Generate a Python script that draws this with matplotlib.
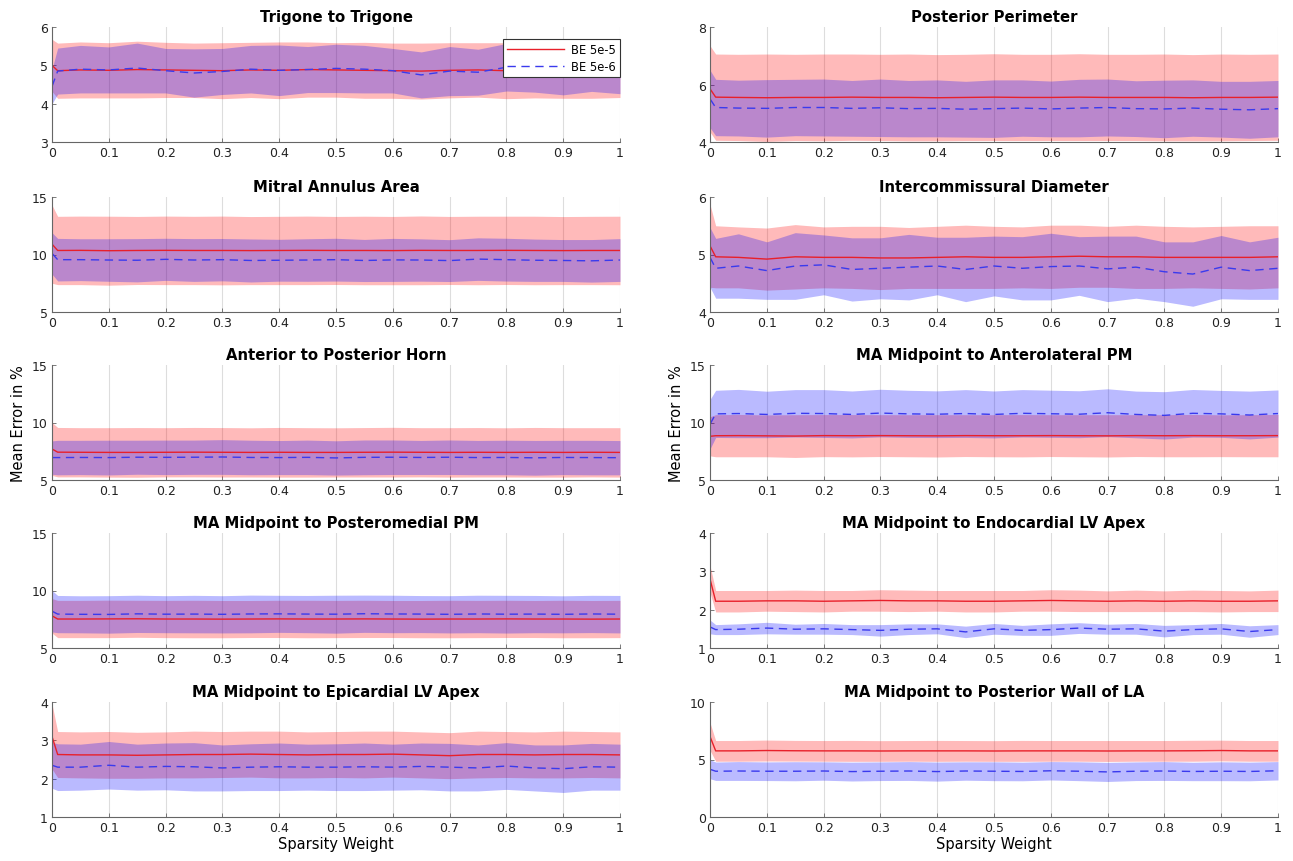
import matplotlib
matplotlib.use("Agg")
import matplotlib.pyplot as plt
import numpy as np

# ---------------- data ----------------
sparsity = [0.00, 0.01, 0.05, 0.10, 0.15, 0.20, 0.25, 0.30, 0.35, 0.40, 0.45,
            0.50, 0.55, 0.60, 0.65, 0.70, 0.75, 0.80, 0.85, 0.90, 0.95, 1.00]
x_ticks = [0, 0.1, 0.2, 0.3, 0.4, 0.5, 0.6, 0.7, 0.8, 0.9, 1]
x_tick_labels = ["0", "0.1", "0.2", "0.3", "0.4", "0.5", "0.6", "0.7", "0.8", "0.9", "1"]
series_labels = ["BE 5e-5", "BE 5e-6"]

titles = ["Trigone to Trigone", "Posterior Perimeter", "Mitral Annulus Area",
          "Intercommissural Diameter", "Anterior to Posterior Horn",
          "MA Midpoint to Anterolateral PM", "MA Midpoint to Posteromedial PM",
          "MA Midpoint to Endocardial LV Apex", "MA Midpoint to Epicardial LV Apex",
          "MA Midpoint to Posterior Wall of LA"]
y_limits = [(3, 6), (4, 8), (5, 15), (4, 6), (5, 15), (5, 15), (5, 15), (1, 4), (1, 4), (0, 10)]
y_ticks = [[3, 4, 5, 6], [4, 6, 8], [5, 10, 15], [4, 5, 6], [5, 10, 15],
           [5, 10, 15], [5, 10, 15], [1, 2, 3, 4], [1, 2, 3, 4], [0, 5, 10]]

# Trigone to Trigone
tt_r_mean = [5.00, 4.86, 4.88, 4.87, 4.89, 4.88, 4.87, 4.86, 4.88, 4.87, 4.89, 4.88, 4.87, 4.86, 4.85, 4.87, 4.88, 4.86, 4.87, 4.88, 4.86, 4.87]
tt_r_std = [0.68, 0.72, 0.73, 0.72, 0.74, 0.72, 0.71, 0.73, 0.72, 0.74, 0.72, 0.71, 0.73, 0.72, 0.73, 0.72, 0.71, 0.73, 0.72, 0.74, 0.72, 0.71]
tt_b_mean = [4.45, 4.85, 4.90, 4.88, 4.93, 4.86, 4.80, 4.84, 4.90, 4.87, 4.89, 4.92, 4.90, 4.86, 4.75, 4.85, 4.82, 4.95, 4.88, 4.86, 4.92, 4.88]
tt_b_std = [0.45, 0.60, 0.62, 0.60, 0.65, 0.58, 0.63, 0.60, 0.62, 0.66, 0.60, 0.63, 0.62, 0.58, 0.60, 0.64, 0.60, 0.62, 0.58, 0.63, 0.60, 0.62]

# Posterior Perimeter
pp_r_mean = [5.85, 5.56, 5.55, 5.54, 5.55, 5.55, 5.56, 5.55, 5.55, 5.54, 5.55, 5.56, 5.55, 5.55, 5.56, 5.55, 5.55, 5.55, 5.54, 5.55, 5.55, 5.56]
pp_r_std = [1.50, 1.50, 1.50, 1.52, 1.50, 1.51, 1.50, 1.50, 1.51, 1.50, 1.50, 1.51, 1.50, 1.50, 1.51, 1.50, 1.50, 1.51, 1.50, 1.51, 1.50, 1.50]
pp_b_mean = [5.50, 5.20, 5.18, 5.17, 5.20, 5.20, 5.17, 5.19, 5.16, 5.17, 5.14, 5.16, 5.18, 5.15, 5.18, 5.20, 5.16, 5.15, 5.18, 5.14, 5.12, 5.16]
pp_b_std = [1.00, 0.98, 0.97, 1.00, 0.98, 0.99, 0.97, 1.00, 0.98, 0.99, 0.97, 1.00, 0.98, 0.97, 1.00, 0.99, 0.97, 1.00, 0.98, 0.97, 0.99, 0.98]

# Mitral Annulus Area
ma_r_mean = [10.90, 10.35, 10.36, 10.33, 10.35, 10.36, 10.35, 10.35, 10.34, 10.35, 10.36, 10.35, 10.35, 10.34, 10.36, 10.35, 10.35, 10.36, 10.35, 10.34, 10.35, 10.35]
ma_r_std = [3.40, 2.97, 2.98, 3.00, 2.96, 2.98, 2.97, 2.99, 2.96, 2.97, 2.98, 2.96, 2.98, 2.97, 2.99, 2.96, 2.98, 2.97, 2.98, 2.96, 2.97, 2.98]
ma_b_mean = [10.10, 9.55, 9.55, 9.52, 9.50, 9.58, 9.52, 9.55, 9.48, 9.50, 9.52, 9.55, 9.48, 9.53, 9.52, 9.47, 9.60, 9.55, 9.50, 9.48, 9.45, 9.52]
ma_b_std = [1.80, 1.85, 1.82, 1.85, 1.88, 1.83, 1.86, 1.84, 1.87, 1.82, 1.85, 1.86, 1.83, 1.87, 1.84, 1.82, 1.85, 1.86, 1.84, 1.82, 1.85, 1.86]

# Intercommissural Diameter
ic_r_mean = [5.15, 4.96, 4.95, 4.92, 4.96, 4.95, 4.95, 4.94, 4.94, 4.95, 4.96, 4.95, 4.95, 4.96, 4.97, 4.96, 4.96, 4.95, 4.95, 4.95, 4.95, 4.96]
ic_r_std = [0.72, 0.54, 0.53, 0.54, 0.56, 0.53, 0.54, 0.55, 0.53, 0.54, 0.55, 0.54, 0.53, 0.55, 0.54, 0.53, 0.55, 0.54, 0.53, 0.54, 0.55, 0.54]
ic_b_mean = [4.95, 4.76, 4.80, 4.72, 4.80, 4.82, 4.74, 4.76, 4.78, 4.80, 4.74, 4.80, 4.76, 4.79, 4.80, 4.75, 4.78, 4.70, 4.66, 4.78, 4.72, 4.76]
ic_b_std = [0.52, 0.52, 0.56, 0.50, 0.58, 0.52, 0.55, 0.53, 0.57, 0.50, 0.56, 0.52, 0.55, 0.58, 0.51, 0.57, 0.54, 0.52, 0.56, 0.55, 0.50, 0.54]

# Anterior to Posterior Horn
ap_r_mean = [7.70, 7.42, 7.41, 7.40, 7.40, 7.41, 7.42, 7.41, 7.40, 7.41, 7.40, 7.40, 7.41, 7.42, 7.41, 7.40, 7.41, 7.40, 7.41, 7.40, 7.41, 7.40]
ap_r_std = [2.30, 2.15, 2.14, 2.15, 2.16, 2.14, 2.15, 2.15, 2.14, 2.16, 2.15, 2.14, 2.15, 2.16, 2.14, 2.15, 2.15, 2.14, 2.16, 2.15, 2.14, 2.15]
ap_b_mean = [6.95, 6.95, 6.96, 6.95, 6.98, 6.97, 6.98, 7.00, 6.96, 6.95, 6.97, 6.92, 6.97, 6.98, 6.96, 6.98, 6.95, 6.96, 6.93, 6.96, 6.95, 6.94]
ap_b_std = [1.45, 1.50, 1.49, 1.51, 1.48, 1.50, 1.49, 1.51, 1.50, 1.48, 1.50, 1.49, 1.51, 1.50, 1.48, 1.50, 1.49, 1.50, 1.51, 1.49, 1.50, 1.49]

# MA Midpoint to Anterolateral PM
al_r_mean = [8.80, 8.85, 8.86, 8.84, 8.82, 8.86, 8.85, 8.86, 8.85, 8.84, 8.86, 8.85, 8.85, 8.86, 8.85, 8.84, 8.86, 8.85, 8.86, 8.85, 8.85, 8.86]
al_r_std = [1.70, 1.83, 1.84, 1.82, 1.86, 1.83, 1.84, 1.82, 1.83, 1.84, 1.82, 1.83, 1.84, 1.82, 1.83, 1.84, 1.82, 1.83, 1.84, 1.82, 1.83, 1.84]
al_b_mean = [9.85, 10.75, 10.78, 10.70, 10.80, 10.78, 10.70, 10.82, 10.75, 10.72, 10.78, 10.70, 10.80, 10.76, 10.72, 10.85, 10.70, 10.62, 10.80, 10.75, 10.65, 10.78]
al_b_std = [2.15, 2.05, 2.10, 2.02, 2.06, 2.08, 2.04, 2.07, 2.05, 2.03, 2.08, 2.04, 2.06, 2.05, 2.04, 2.08, 2.03, 2.06, 2.07, 2.04, 2.08, 2.05]

# MA Midpoint to Posteromedial PM
pm_r_mean = [7.80, 7.52, 7.52, 7.53, 7.54, 7.52, 7.52, 7.51, 7.52, 7.53, 7.52, 7.52, 7.53, 7.52, 7.51, 7.52, 7.52, 7.53, 7.52, 7.52, 7.51, 7.52]
pm_r_std = [1.50, 1.62, 1.62, 1.63, 1.61, 1.62, 1.63, 1.62, 1.61, 1.62, 1.63, 1.62, 1.62, 1.61, 1.62, 1.63, 1.62, 1.62, 1.61, 1.63, 1.62, 1.62]
pm_b_mean = [8.20, 7.95, 7.93, 7.92, 7.97, 7.94, 7.95, 7.93, 7.96, 7.97, 7.95, 7.94, 7.98, 7.96, 7.95, 7.93, 7.96, 7.94, 7.95, 7.93, 7.96, 7.94]
pm_b_std = [1.80, 1.62, 1.61, 1.63, 1.62, 1.61, 1.63, 1.62, 1.64, 1.61, 1.62, 1.65, 1.62, 1.63, 1.61, 1.62, 1.63, 1.64, 1.62, 1.61, 1.62, 1.63]

# MA Midpoint to Endocardial LV Apex
en_r_mean = [2.80, 2.22, 2.22, 2.23, 2.23, 2.22, 2.23, 2.24, 2.23, 2.23, 2.22, 2.22, 2.23, 2.24, 2.23, 2.22, 2.23, 2.22, 2.23, 2.22, 2.22, 2.23]
en_r_std = [0.35, 0.28, 0.28, 0.27, 0.28, 0.28, 0.27, 0.28, 0.28, 0.27, 0.28, 0.28, 0.27, 0.28, 0.28, 0.27, 0.28, 0.27, 0.28, 0.28, 0.27, 0.28]
en_b_mean = [1.55, 1.48, 1.49, 1.52, 1.49, 1.50, 1.48, 1.46, 1.49, 1.50, 1.42, 1.50, 1.46, 1.48, 1.52, 1.49, 1.50, 1.44, 1.48, 1.50, 1.43, 1.48]
en_b_std = [0.18, 0.13, 0.14, 0.15, 0.13, 0.14, 0.13, 0.15, 0.14, 0.13, 0.15, 0.14, 0.13, 0.15, 0.14, 0.13, 0.14, 0.15, 0.13, 0.14, 0.15, 0.13]

# MA Midpoint to Epicardial LV Apex
ep_r_mean = [3.10, 2.63, 2.62, 2.62, 2.61, 2.62, 2.63, 2.63, 2.64, 2.63, 2.62, 2.63, 2.63, 2.64, 2.62, 2.60, 2.63, 2.63, 2.62, 2.63, 2.63, 2.62]
ep_r_std = [0.85, 0.60, 0.60, 0.61, 0.60, 0.60, 0.61, 0.60, 0.60, 0.61, 0.60, 0.60, 0.61, 0.60, 0.60, 0.60, 0.61, 0.60, 0.60, 0.61, 0.60, 0.60]
ep_b_mean = [2.35, 2.30, 2.30, 2.35, 2.30, 2.32, 2.31, 2.28, 2.30, 2.31, 2.30, 2.30, 2.31, 2.30, 2.32, 2.30, 2.28, 2.33, 2.28, 2.26, 2.31, 2.30]
ep_b_std = [0.60, 0.61, 0.60, 0.62, 0.60, 0.61, 0.63, 0.60, 0.61, 0.62, 0.60, 0.61, 0.62, 0.60, 0.61, 0.62, 0.60, 0.61, 0.60, 0.62, 0.61, 0.60]

# MA Midpoint to Posterior Wall of LA
la_r_mean = [7.00, 5.75, 5.75, 5.78, 5.76, 5.75, 5.75, 5.74, 5.75, 5.75, 5.75, 5.74, 5.75, 5.75, 5.75, 5.74, 5.75, 5.75, 5.76, 5.78, 5.75, 5.75]
la_r_std = [1.20, 0.90, 0.90, 0.91, 0.90, 0.90, 0.91, 0.90, 0.90, 0.91, 0.90, 0.90, 0.91, 0.90, 0.90, 0.91, 0.90, 0.90, 0.91, 0.90, 0.90, 0.90]
la_b_mean = [4.15, 3.98, 4.00, 3.98, 3.98, 4.00, 3.95, 3.98, 4.00, 3.95, 4.00, 3.98, 3.96, 4.02, 3.98, 3.92, 3.98, 4.00, 3.96, 3.98, 3.96, 4.02]
la_b_std = [0.82, 0.80, 0.82, 0.81, 0.83, 0.80, 0.82, 0.81, 0.82, 0.83, 0.80, 0.82, 0.81, 0.80, 0.82, 0.83, 0.81, 0.82, 0.80, 0.82, 0.81, 0.80]

panels = [
    (tt_r_mean, tt_r_std, tt_b_mean, tt_b_std),
    (pp_r_mean, pp_r_std, pp_b_mean, pp_b_std),
    (ma_r_mean, ma_r_std, ma_b_mean, ma_b_std),
    (ic_r_mean, ic_r_std, ic_b_mean, ic_b_std),
    (ap_r_mean, ap_r_std, ap_b_mean, ap_b_std),
    (al_r_mean, al_r_std, al_b_mean, al_b_std),
    (pm_r_mean, pm_r_std, pm_b_mean, pm_b_std),
    (en_r_mean, en_r_std, en_b_mean, en_b_std),
    (ep_r_mean, ep_r_std, ep_b_mean, ep_b_std),
    (la_r_mean, la_r_std, la_b_mean, la_b_std),
]

# ---------------- figure ----------------
plt.rcParams['font.family'] = ['DejaVu Sans']
fig = plt.figure(figsize=(12.93, 8.62), dpi=100)

col_left = [52 / 1293, 710 / 1293]
ax_w = 568 / 1293
row_bottom_px = [143, 313, 481, 649, 818]
ax_h = 115 / 862

x = np.array(sparsity)
for i, (rm, rs, bm, bs) in enumerate(panels):
    row, col = divmod(i, 2)
    ax = fig.add_axes([col_left[col], 1 - row_bottom_px[row] / 862, ax_w, ax_h])
    rm, rs, bm, bs = map(np.array, (rm, rs, bm, bs))
    ax.fill_between(x, rm - rs, rm + rs, color='red', alpha=0.27, linewidth=0)
    ax.plot(x, rm, color='#e8202a', lw=1.0, label=series_labels[0])
    ax.fill_between(x, bm - bs, bm + bs, color='blue', alpha=0.27, linewidth=0)
    ax.plot(x, bm, color='#3a3aee', lw=1.0, ls=(0, (6, 4)), label=series_labels[1])

    ax.set_xlim(0, 1)
    ax.set_ylim(*y_limits[i])
    ax.set_yticks(y_ticks[i])
    ax.set_xticks(x_ticks)
    ax.set_xticklabels(x_tick_labels)
    ax.grid(axis='x', color='#dddddd', lw=0.8)
    ax.set_axisbelow(True)
    for s in ['top', 'right']:
        ax.spines[s].set_visible(False)
    for s in ['left', 'bottom']:
        ax.spines[s].set_color('#666666')
        ax.spines[s].set_linewidth(0.8)
    ax.tick_params(direction='in', length=3, width=0.6, colors='#666666',
                   labelcolor='#222222', labelsize=9, pad=3)
    ax.set_title(titles[i], fontsize=10.7, fontweight='bold', pad=4)
    if row == 2:
        ax.set_ylabel("Mean Error in %", fontsize=10.5, labelpad=4)
    if row == 4:
        ax.set_xlabel("Sparsity Weight", fontsize=10.5, labelpad=1)
    if i == 0:
        leg = ax.legend(loc='upper right', bbox_to_anchor=(1.0, 0.9), borderaxespad=0,
                        fontsize=8.3, frameon=True, fancybox=False,
                        handlelength=5.0, handletextpad=0.6, borderpad=0.35,
                        labelspacing=0.35)
        leg.get_frame().set_edgecolor('#333333')
        leg.get_frame().set_linewidth(0.8)
        leg.get_frame().set_alpha(1)

fig.savefig("out.png", dpi=100)
